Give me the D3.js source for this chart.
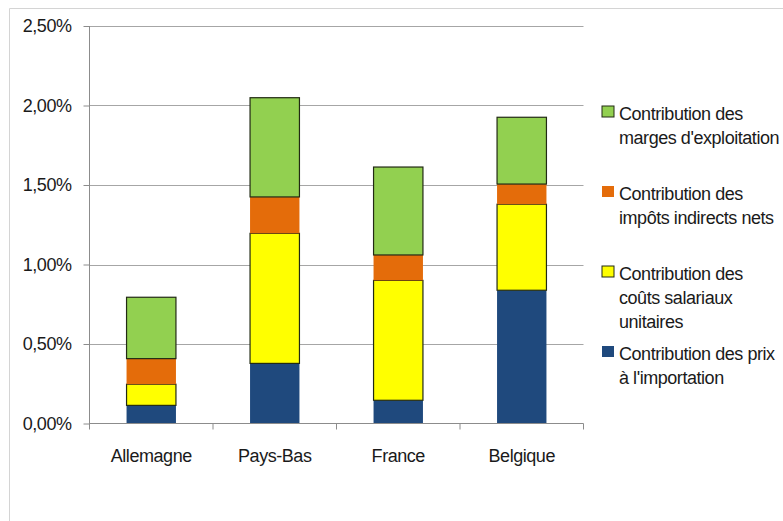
<!DOCTYPE html>
<html>
<head>
<meta charset="utf-8">
<script src="https://cdn.jsdelivr.net/npm/d3@7"></script>
<style>
  html, body { margin: 0; padding: 0; background: #fff; }
  svg { display: block; font-family: "Liberation Sans", Arial, sans-serif; }
  text { letter-spacing: -0.45px; }
</style>
</head>
<body>
<svg id="chart" width="783" height="521"></svg>
<script>
// Contributions to the GDP deflator growth, by country (in %)
const categories = ["Allemagne", "Pays-Bas", "France", "Belgique"];
const importPrices   = [0.114, 0.378, 0.146, 0.838];
const unitLabourCost = [0.133, 0.818, 0.754, 0.541];
const indirectTaxes  = [0.161, 0.229, 0.160, 0.127];
const operatingMargins = [0.386, 0.624, 0.553, 0.420];
const yTicks = [0, 0.5, 1.0, 1.5, 2.0, 2.5];

const seriesNames = [
  ["Contribution des prix", "à l'importation"],
  ["Contribution des", "coûts salariaux", "unitaires"],
  ["Contribution des", "impôts indirects nets"],
  ["Contribution des", "marges d'exploitation"]
];
const seriesValues = [importPrices, unitLabourCost, indirectTaxes, operatingMargins];
const colors = ["#1f497d", "#ffff00", "#e46c0a", "#92d050"];
const outlined = [false, true, false, true];

const FONT_SIZE = 18;
const svg = d3.select("#chart");

// outer frame
svg.append("path")
  .attr("d", "M9.5,521 V8.5 H783")
  .attr("fill", "none")
  .attr("stroke", "#d4d4d4")
  .attr("stroke-width", 1);

const plot = { left: 89.5, right: 583.5, top: 26, bottom: 423.5 };

const x = d3.scaleBand()
  .domain(categories)
  .range([plot.left, plot.right])
  .paddingInner(0.6)
  .paddingOuter(0.3);

const y = d3.scaleLinear()
  .domain([0, 2.5])
  .range([plot.bottom, plot.top]);

const fr = d3.formatLocale({ decimal: ",", thousands: " ", grouping: [3], currency: ["", " €"] });
const fmt = v => fr.format(".2f")(v) + "%";

// gridlines
svg.append("g")
  .selectAll("line")
  .data(yTicks.filter(d => d > 0))
  .join("line")
  .attr("x1", plot.left).attr("x2", plot.right)
  .attr("y1", d => Math.round(y(d)) + 0.5).attr("y2", d => Math.round(y(d)) + 0.5)
  .attr("stroke", "#a6a6a6")
  .attr("stroke-width", 1);

// y axis
const yAxis = svg.append("g")
  .attr("transform", `translate(${plot.left},0)`)
  .call(d3.axisLeft(y).tickValues(yTicks).tickFormat(fmt).tickSize(6).tickPadding(12));
yAxis.select(".domain").attr("stroke", "#8c8c8c").attr("d", `M0,${plot.top}V${plot.bottom + 6}`);
yAxis.selectAll(".tick line").attr("stroke", "#8c8c8c");
yAxis.selectAll(".tick text")
  .attr("font-size", FONT_SIZE)
  .attr("font-family", "'Liberation Sans', Arial, sans-serif")
  .attr("fill", "#1a1a1a");

// stacked bars
const rows = categories.map((c, i) => {
  const r = { cat: c };
  seriesValues.forEach((s, k) => { r["s" + k] = s[i]; });
  return r;
});
const stack = d3.stack().keys(seriesValues.map((s, k) => "s" + k));
const stacked = stack(rows);

svg.append("g")
  .selectAll("g")
  .data(stacked)
  .join("g")
  .attr("fill", (d, k) => colors[k])
  .attr("stroke", (d, k) => outlined[k] ? "#222a14" : "none")
  .attr("stroke-width", 1.2)
  .selectAll("rect")
  .data(d => d)
  .join("rect")
  .attr("x", d => x(d.data.cat))
  .attr("width", x.bandwidth())
  .attr("y", d => y(d[1]))
  .attr("height", d => y(d[0]) - y(d[1]));

// x axis
const xAxis = svg.append("g")
  .attr("transform", `translate(0,${plot.bottom})`)
  .call(d3.axisBottom(x).tickSize(0).tickPadding(26));
xAxis.select(".domain").attr("stroke", "#8c8c8c").attr("d", `M${plot.left},0H${plot.right}`);
xAxis.selectAll(".tick text")
  .attr("font-size", FONT_SIZE)
  .attr("font-family", "'Liberation Sans', Arial, sans-serif")
  .attr("fill", "#1a1a1a");
// category separators
const step = x.step();
svg.append("g")
  .selectAll("line")
  .data(d3.range(1, categories.length + 1))
  .join("line")
  .attr("x1", i => plot.left + i * step).attr("x2", i => plot.left + i * step)
  .attr("y1", plot.bottom).attr("y2", plot.bottom + 6)
  .attr("stroke", "#8c8c8c");

// legend (top entry is the top of the stack)
const legendOrder = [3, 2, 1, 0];
const legend = svg.append("g");
legendOrder.forEach((k, j) => {
  const base = 119.5 + j * 80;
  const g = legend.append("g");
  g.append("rect")
    .attr("x", 602).attr("y", base - 13.5)
    .attr("width", 12).attr("height", 11)
    .attr("fill", colors[k])
    .attr("stroke", outlined[k] ? "#222a14" : "none")
    .attr("stroke-width", 1);
  seriesNames[k].forEach((line, li) => {
    g.append("text")
      .attr("x", 619).attr("y", base + li * 24)
      .attr("font-size", FONT_SIZE)
      .attr("fill", "#1a1a1a")
      .text(line);
  });
});
</script>
</body>
</html>
